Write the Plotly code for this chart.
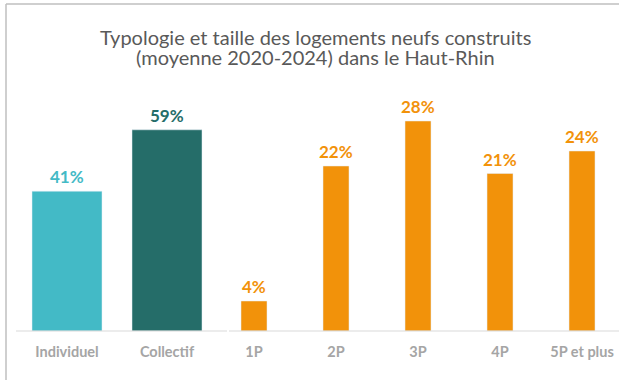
import plotly.graph_objects as go

# Data
type_categories = ["Individuel", "Collectif"]
type_values = [41, 59]
type_colors = ["#43BAC6", "#256D69"]

size_categories = ["1P", "2P", "3P", "4P", "5P et plus"]
size_values = [4, 22, 28, 21, 24]
size_color = "#F2920A"

W, H = 619, 380

def px_x(p):
    return p / W

def px_y(p):
    return (H - p) / H

baseline = 331
top = 100

fig = go.Figure()

fig.add_trace(go.Bar(
    x=type_categories, y=type_values, marker_color=type_colors,
    width=0.7, xaxis="x", yaxis="y", hoverinfo="skip",
))
fig.add_trace(go.Bar(
    x=size_categories, y=size_values, marker_color=size_color,
    width=0.317, xaxis="x2", yaxis="y2", hoverinfo="skip",
))

tick_font = dict(family="Lato", size=14.5, color="#A5A5A5", weight="bold")
common_x = dict(showgrid=False, zeroline=False, showline=False, ticks="outside",
                ticklen=8, tickcolor="rgba(0,0,0,0)", tickfont=tick_font,
                fixedrange=True)
common_y = dict(visible=False, showgrid=False, zeroline=False, fixedrange=True)

fig.update_layout(
    width=W, height=H,
    margin=dict(l=0, r=0, t=0, b=0),
    paper_bgcolor="white", plot_bgcolor="white",
    showlegend=False,
    xaxis=dict(domain=[px_x(16), px_x(218)], range=[-0.51, 1.51],
               anchor="y", **common_x),
    yaxis=dict(domain=[px_y(baseline), px_y(top)],
               range=[0, (baseline - top) / 3.41], anchor="x", **common_y),
    xaxis2=dict(domain=[px_x(229), 1], range=[-0.305, 4.451],
                anchor="y2", **common_x),
    yaxis2=dict(domain=[px_y(baseline), px_y(top)],
                range=[0, (baseline - top) / 7.5], anchor="x2", **common_y),
)

# Value labels above bars
annotations = []
for cat, val, col in zip(type_categories, type_values, type_colors):
    annotations.append(dict(x=cat, y=val, xref="x", yref="y", text=f"{val}%",
                            showarrow=False, yanchor="bottom", yshift=2,
                            font=dict(family="Lato", size=17, color=col, weight="bold")))
for cat, val in zip(size_categories, size_values):
    annotations.append(dict(x=cat, y=val, xref="x2", yref="y2", text=f"{val}%",
                            showarrow=False, yanchor="bottom", yshift=2,
                            font=dict(family="Lato", size=17, color=size_color, weight="bold")))

# Two-line title
title_font = dict(family="Lato", size=20, color="#595959")
annotations.append(dict(x=px_x(315), y=px_y(37), xref="paper", yref="paper",
                        text="Typologie et taille des logements neufs construits",
                        showarrow=False, xanchor="center", yanchor="middle", font=title_font))
annotations.append(dict(x=px_x(315), y=px_y(57), xref="paper", yref="paper",
                        text="(moyenne 2020-2024) dans le Haut-Rhin",
                        showarrow=False, xanchor="center", yanchor="middle", font=title_font))
fig.update_layout(annotations=annotations)

# Baselines and frame
shapes = [
    dict(type="line", xref="paper", yref="paper", x0=px_x(16), x1=px_x(227),
         y0=px_y(baseline), y1=px_y(baseline), line=dict(color="#D9D9D9", width=1)),
    dict(type="line", xref="paper", yref="paper", x0=px_x(229), x1=1,
         y0=px_y(baseline), y1=px_y(baseline), line=dict(color="#D9D9D9", width=1)),
    dict(type="line", xref="paper", yref="paper", x0=px_x(6), x1=px_x(6),
         y0=0, y1=px_y(4), line=dict(color="#BFBFBF", width=1.5)),
    dict(type="line", xref="paper", yref="paper", x0=px_x(6), x1=1,
         y0=px_y(4), y1=px_y(4), line=dict(color="#BFBFBF", width=1.5)),
]
fig.update_layout(shapes=shapes)

fig.write_html("out.html", config={"displayModeBar": False})
